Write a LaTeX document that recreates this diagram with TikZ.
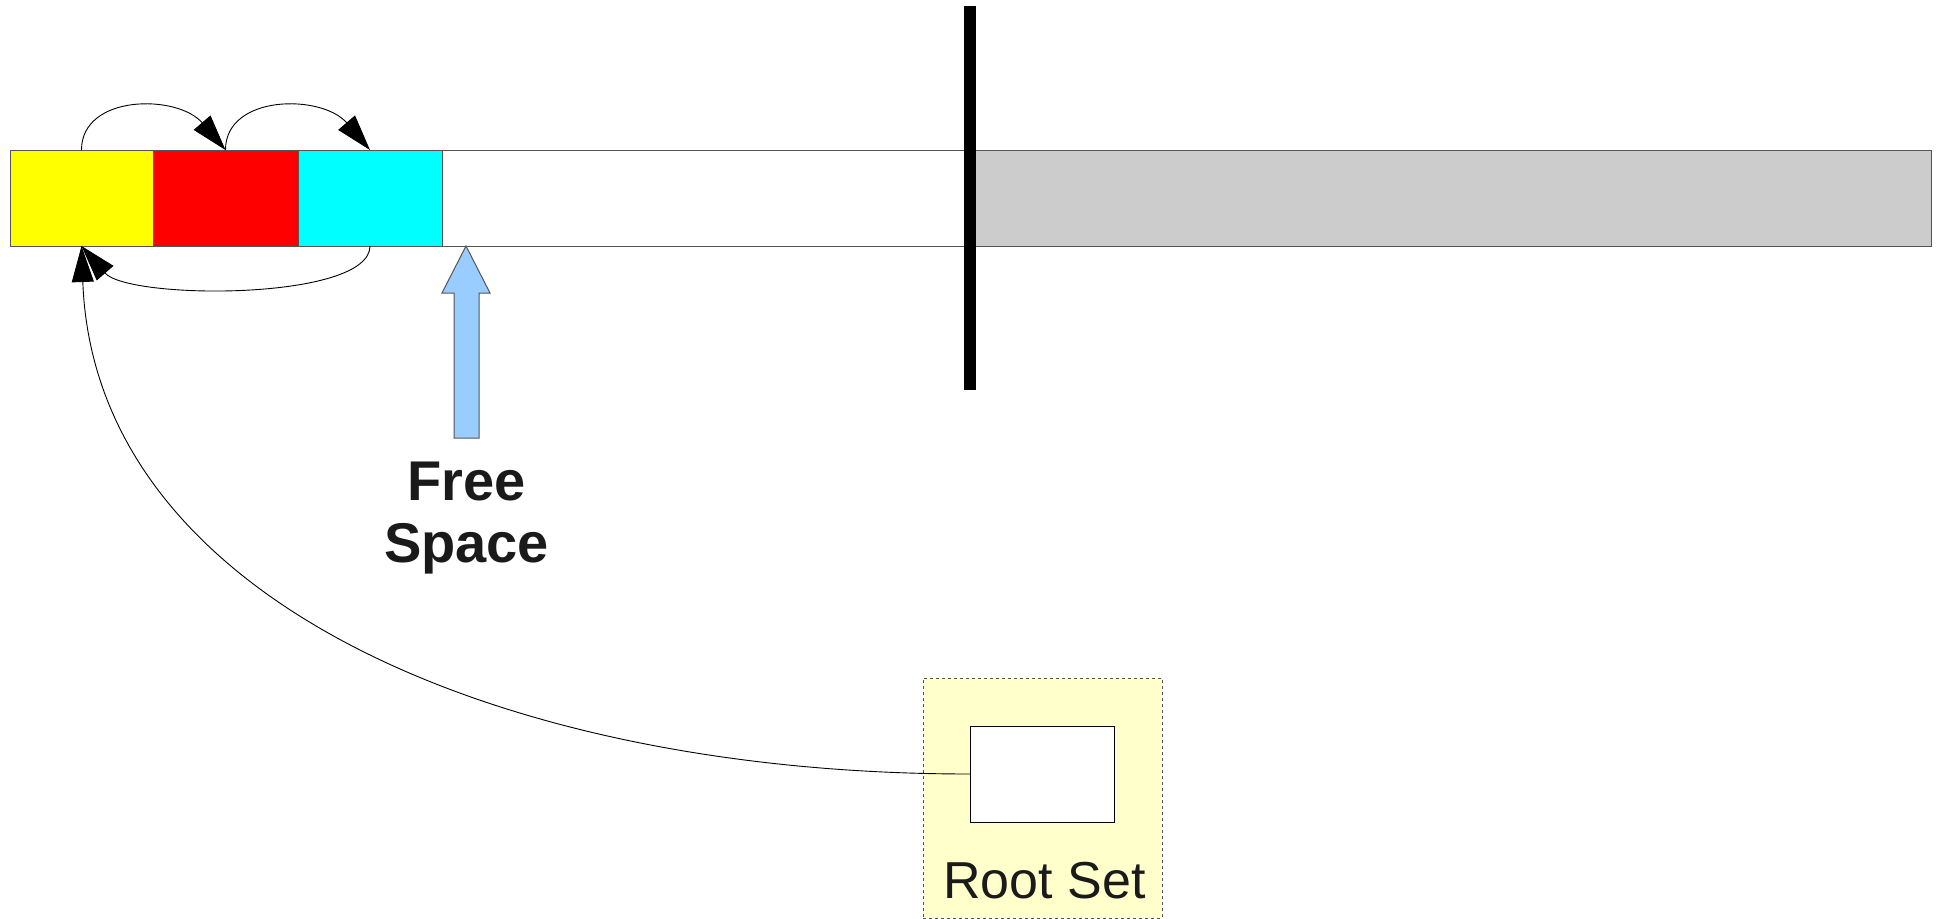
\documentclass[tikz,border=0pt]{standalone}
\usepackage{fontspec}
\setmainfont{Liberation Sans}
\usetikzlibrary{arrows.meta}
\definecolor{cellgray}{HTML}{CCCCCC}
\definecolor{cellyellow}{HTML}{FFFF00}
\definecolor{cellred}{HTML}{FF0000}
\definecolor{cellcyan}{HTML}{00FFFF}
\definecolor{rootfill}{HTML}{FFFFCC}
\definecolor{freeblue}{HTML}{99CCFF}
\definecolor{edgegray}{HTML}{555555}
\definecolor{txt}{HTML}{1A1A1A}
\tikzset{
  cell/.style={draw=edgegray, line width=1pt, inner sep=0pt, outer sep=0pt, minimum height=96pt, anchor=north west},
  link/.style={draw=black, line width=0.9pt, -{Triangle[length=36pt,width=22pt]}},
}
\begin{document}
\begin{tikzpicture}[x=1pt,y=-1pt]
\useasboundingbox (0,0) rectangle (1945,918);
% heap strip
\node[cell, fill=cellgray, minimum width=961pt] (old) at (970,150) {};
\node[cell, fill=white, minimum width=528pt] (free) at (442,150) {};
\node[cell, fill=cellyellow, minimum width=143pt] (yel) at (10,150) {};
\node[cell, fill=cellred, minimum width=145pt] (redc) at (153,150) {};
\node[cell, fill=cellcyan, minimum width=144pt] (cya) at (298,150) {};
% boundary bar
\node[fill=black, inner sep=0pt, minimum width=12pt, minimum height=384pt] (bar) at (970,198) {};
% links between cells
\draw[link] (yel.north) .. controls +(0,-56) and +(-48,-56) .. (redc.north);
\draw[link] (redc.north) .. controls +(0,-56) and +(-48,-56) .. (cya.north);
\draw[link] (cya.south) .. controls +(0,55) and +(47,54) .. (yel.south);
% free space arrow
\draw[draw=edgegray, line width=1pt, fill=freeblue]
  (466,246) -- (490,293) -- (479,293) -- (479,438) -- (454,438) -- (454,293) -- (442,293) -- cycle;
\node[font=\bfseries\fontsize{56}{62}\selectfont, text=txt, align=center, anchor=base, inner sep=0pt] (fstext) at (466.5,562) {Free\\Space};
% root set
\node[draw=edgegray, dashed, line width=0.8pt, fill=rootfill, inner sep=0pt, minimum width=239pt, minimum height=240pt, anchor=north west] (rootset) at (923,678) {};
\node[draw=black, line width=0.9pt, fill=white, inner sep=0pt, outer sep=0pt, minimum width=144pt, minimum height=96pt, anchor=north west] (rootbox) at (970,726) {};
\node[font=\fontsize{52}{60}\selectfont, text=txt, anchor=base, inner sep=0pt] (rslabel) at (1044.5,898) {Root Set};
\draw[link] (rootbox.west) .. controls +(-470,0) and +(13,354) .. (yel.south);
\end{tikzpicture}
\end{document}
